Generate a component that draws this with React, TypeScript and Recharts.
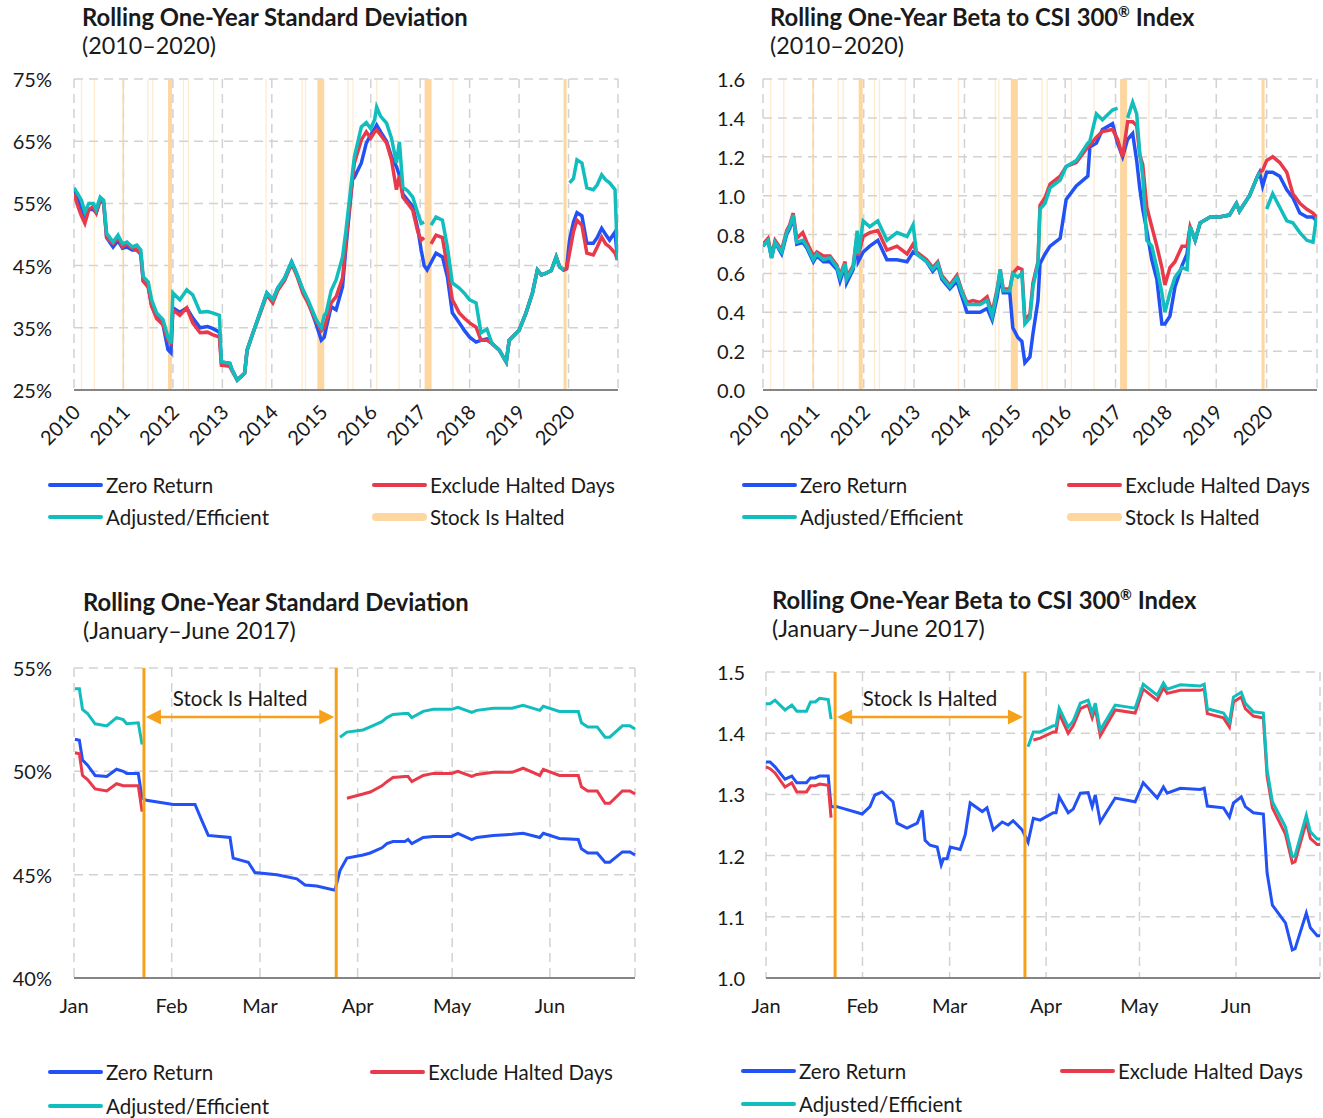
import React from "react";
import {
  LineChart,
  Line,
  XAxis,
  YAxis,
  CartesianGrid,
  ReferenceArea,
  ReferenceLine,
} from "recharts";

const FONT = "Lato, 'Open Sans', sans-serif";
const BLUE = "#2251f5";
const RED = "#e83a4a";
const TEAL = "#12bdbd";
const HALT = "#fdd6a0";
const ORANGE = "#f7a11a";
const GRID = "#d2d2d2";
const AXIS = "#858585";
const TEXT = "#1a1a1a";

// ---------- top charts: 2010-2020 ----------
const YEARS = [2010, 2011, 2012, 2013, 2014, 2015, 2016, 2017, 2018, 2019, 2020];

// halted periods (decimal years)
const HALT_BANDS: [number, number][] = [
  [2010.98, 2011.01],
  [2011.9, 2011.98],
  [2014.92, 2015.06],
  [2017.09, 2017.23],
  [2019.9, 2019.96],
];
const HALT_DAYS = [
  2010.14, 2010.4, 2011.48, 2011.58, 2012.2, 2012.3, 2012.81, 2013.87, 2014.6,
  2014.67, 2015.53, 2015.63, 2016.11, 2016.56, 2017.65,
];

// rolling std dev (%)
const sdT = [
  2010.0, 2010.08, 2010.15, 2010.22, 2010.3, 2010.39, 2010.45, 2010.53, 2010.6, 2010.66,
  2010.79, 2010.89, 2010.98, 2011.07, 2011.18, 2011.27, 2011.35, 2011.4, 2011.5, 2011.57,
  2011.67, 2011.8, 2011.9, 2011.96, 2012.0, 2012.14, 2012.28, 2012.4, 2012.55, 2012.7,
  2012.8, 2012.94, 2012.98, 2013.15, 2013.2, 2013.3, 2013.45, 2013.5, 2013.62, 2013.76,
  2013.9, 2014.02, 2014.12, 2014.26, 2014.4, 2014.5, 2014.63, 2014.73, 2014.9, 2015.0,
  2015.06, 2015.1, 2015.2, 2015.3, 2015.43, 2015.5, 2015.63, 2015.67, 2015.81, 2015.91,
  2016.0, 2016.08, 2016.12, 2016.2, 2016.32, 2016.42, 2016.52, 2016.58, 2016.65, 2016.75,
  2016.85, 2016.95, 2017.02, 2017.08, 2017.14, 2017.22, 2017.32, 2017.45, 2017.55, 2017.65,
  2017.79, 2017.9, 2018.0, 2018.13, 2018.23, 2018.35, 2018.45, 2018.6, 2018.74, 2018.8,
  2018.9, 2019.0, 2019.14, 2019.27, 2019.37, 2019.45, 2019.55, 2019.65, 2019.75, 2019.82,
  2019.9, 2019.96, 2020.02, 2020.1, 2020.17, 2020.27, 2020.37, 2020.5, 2020.58, 2020.67,
  2020.75, 2020.83, 2020.94, 2020.99,
];
const sdZero = [
  57.0, 55.5, 54.0, 53.0, 54.0, 54.0, 53.5, 55.5, 55.0, 49.5,
  48.0, 49.0, 47.8, 48.0, 47.5, 47.5, 46.8, 42.5, 41.8, 38.5,
  36.8, 35.5, 31.5, 31.0, 38.2, 37.5, 38.2, 36.6, 35.0, 35.2,
  34.9, 34.3, 29.5, 29.3, 28.2, 26.6, 27.7, 31.4, 34.2, 37.4,
  40.6, 39.5, 41.4, 43.0, 45.6, 43.8, 41.0, 39.3, 35.5, 33.0,
  33.5, 35.0, 38.4, 37.9, 41.6, 48.0, 58.8, 59.2, 61.5, 64.7,
  66.0, 67.0, 67.6, 66.5, 65.0, 62.5, 60.9, 59.5, 56.5, 55.5,
  54.5, 51.0, 47.5, 45.0, 44.3, 45.5, 47.0, 46.4, 43.2, 37.4,
  35.8, 34.5, 33.5, 32.7, 33.0, 33.2, 32.5, 31.4, 29.5, 33.0,
  33.8, 34.6, 37.4, 40.6, 44.3, 43.5, 43.8, 44.2, 46.4, 44.8,
  44.3, 44.5, 49.1, 52.0, 53.5, 53.0, 48.6, 48.6, 49.5, 51.0,
  50.0, 49.1, 50.4, 45.9,
];
const sdExcl = [
  56.5, 54.5, 53.0, 51.8, 54.0, 54.5, 53.5, 55.5, 55.0, 49.5,
  48.5, 49.5, 48.0, 48.5, 47.8, 47.5, 47.0, 42.5, 41.5, 38.5,
  36.5, 35.5, 33.0, 32.5, 37.9, 37.0, 38.2, 35.8, 34.2, 34.3,
  33.9, 33.5, 29.0, 28.8, 28.0, 26.6, 27.7, 31.4, 34.2, 37.2,
  40.3, 39.0, 41.0, 42.6, 45.3, 43.5, 40.5, 39.0, 36.0, 34.5,
  35.0, 36.0, 39.0, 40.0, 43.0, 49.0, 59.0, 61.5, 65.2, 66.5,
  65.5, 66.5, 66.8, 66.0, 64.7, 62.0, 57.2, 59.5, 56.0, 55.0,
  53.9, 50.5, 49.1, 49.5, null, 48.5, 49.9, 49.5, 44.8, 39.5,
  37.4, 36.5, 35.8, 35.1, 33.0, 33.0, 32.5, 31.4, 29.5, 33.0,
  33.8, 34.6, 37.4, 40.6, 44.3, 43.5, 43.8, 44.2, 46.4, 44.8,
  44.3, 44.5, 47.0, 50.5, 52.3, 51.5, 47.0, 46.7, 48.0, 49.6,
  48.5, 48.0, 47.0, 45.9,
];
const sdAdj = [
  57.5, 56.5, 55.5, 53.6, 55.0, 55.0, 54.0, 56.0, 55.5, 50.2,
  48.8, 49.9, 48.5, 48.8, 48.0, 48.3, 47.5, 43.2, 42.4, 39.5,
  37.4, 36.3, 33.5, 32.5, 40.6, 39.5, 41.1, 40.3, 37.5, 37.6,
  37.4, 37.0, 29.5, 29.3, 28.2, 26.6, 27.7, 31.4, 34.2, 37.4,
  40.6, 39.5, 41.4, 43.0, 45.6, 43.8, 41.1, 39.5, 36.3, 35.0,
  37.0, 37.4, 41.0, 42.7, 46.4, 50.7, 59.9, 62.5, 67.3, 68.0,
  67.0, 68.5, 70.5, 69.0, 67.9, 65.5, 61.5, 64.9, 57.6, 57.0,
  56.0, 53.5, 51.8, 52.0, null, 51.5, 52.8, 52.3, 48.0, 42.2,
  41.4, 40.5, 39.5, 39.0, 34.2, 34.8, 32.5, 31.4, 29.5, 33.0,
  33.8, 34.6, 37.4, 40.6, 44.3, 43.5, 43.8, 44.2, 46.4, 44.8,
  44.3, null, 58.3, 59.0, 62.0, 61.5, 57.5, 57.2, 58.0, 59.6,
  58.8, 58.3, 57.2, 45.9,
];
const SD_TICKS = [25, 35, 45, 55, 65, 75];

// rolling beta to CSI 300
const btT = [
  2010.0, 2010.1, 2010.17, 2010.24, 2010.37, 2010.47, 2010.53, 2010.6, 2010.67, 2010.79,
  2010.87, 2011.0, 2011.07, 2011.2, 2011.33, 2011.47, 2011.53, 2011.63, 2011.66, 2011.79,
  2011.87, 2011.89, 2011.99, 2012.12, 2012.28, 2012.46, 2012.66, 2012.86, 2012.98, 2013.05,
  2013.25, 2013.37, 2013.47, 2013.55, 2013.71, 2013.85, 2013.95, 2014.05, 2014.17, 2014.31,
  2014.45, 2014.55, 2014.65, 2014.71, 2014.77, 2014.9, 2014.96, 2015.06, 2015.14, 2015.2,
  2015.3, 2015.36, 2015.46, 2015.5, 2015.6, 2015.7, 2015.9, 2016.02, 2016.22, 2016.45,
  2016.49, 2016.62, 2016.74, 2016.94, 2017.04, 2017.14, 2017.24, 2017.34, 2017.42, 2017.48,
  2017.54, 2017.62, 2017.72, 2017.82, 2017.92, 2017.98, 2018.08, 2018.18, 2018.32, 2018.42,
  2018.48, 2018.58, 2018.68, 2018.88, 2019.06, 2019.26, 2019.4, 2019.46, 2019.66, 2019.82,
  2019.86, 2019.92, 2020.0, 2020.12, 2020.26, 2020.4, 2020.52, 2020.66, 2020.8, 2020.92,
  2020.99,
];
const btZero = [
  0.74, 0.77, 0.68, 0.76, 0.7, 0.8, 0.83, 0.89, 0.75, 0.76,
  0.73, 0.66, 0.69, 0.66, 0.66, 0.62, 0.56, 0.64, 0.55, 0.62,
  0.78, 0.66, 0.71, 0.74, 0.77, 0.67, 0.67, 0.66, 0.71, 0.7,
  0.66, 0.61, 0.64, 0.57, 0.52, 0.56, 0.48, 0.4, 0.4, 0.4,
  0.42, 0.36, 0.48, 0.58, 0.5, 0.5, 0.32, 0.27, 0.25, 0.14,
  0.17, 0.29, 0.46, 0.65, 0.7, 0.74, 0.78, 0.98, 1.05, 1.1,
  1.25, 1.27, 1.34, 1.37, 1.27, 1.2, 1.29, 1.32, 1.18, 1.04,
  0.93, 0.82, 0.67, 0.57, 0.34, 0.34, 0.38, 0.53, 0.64, 0.7,
  0.84, 0.77, 0.86, 0.89, 0.89, 0.9, 0.96, 0.92, 1.0, 1.1,
  1.12, 1.05, 1.12, 1.12, 1.1, 1.03, 0.99, 0.91, 0.89, 0.89,
  0.87,
];
const btExcl = [
  0.75, 0.78, 0.69, 0.77, 0.72, 0.82, 0.85, 0.91, 0.78, 0.81,
  0.76, 0.69, 0.71, 0.69, 0.69, 0.64, 0.59, 0.66, 0.58, 0.64,
  0.8, 0.69, 0.79, 0.81, 0.82, 0.72, 0.74, 0.7, 0.75, 0.71,
  0.67, 0.63, 0.66, 0.59, 0.54, 0.59, 0.51, 0.45, 0.46, 0.45,
  0.48, 0.4, 0.52, 0.62, 0.52, 0.52, 0.6, 0.63, 0.62, 0.36,
  0.39, 0.55, 0.66, 0.95, 0.99, 1.06, 1.1, 1.15, 1.17, 1.25,
  1.26, 1.3, 1.33, 1.34, 1.29, 1.2, 1.38, 1.38, 1.36, 1.21,
  1.16, 0.94, 0.84, 0.74, 0.63, 0.54, 0.63, 0.66, 0.74, 0.74,
  0.84, 0.77, 0.86, 0.89, 0.89, 0.9, 0.96, 0.92, 1.0, 1.1,
  1.12, 1.13, 1.18, 1.2, 1.17, 1.12, 1.01, 0.96, 0.93, 0.91,
  0.89,
];
const btAdj = [
  0.74, 0.77, 0.68, 0.76, 0.71, 0.81, 0.84, 0.9, 0.76, 0.77,
  0.74, 0.67, 0.7, 0.67, 0.68, 0.63, 0.58, 0.65, 0.57, 0.63,
  0.82, 0.7, 0.87, 0.84, 0.87, 0.77, 0.81, 0.79, 0.85, 0.7,
  0.66, 0.62, 0.65, 0.58, 0.53, 0.58, 0.5, 0.44, 0.44, 0.44,
  0.46, 0.38, 0.51, 0.62, 0.51, 0.51, 0.6, 0.58, 0.6, 0.34,
  0.37, 0.53, 0.65, 0.93, 0.96, 1.04, 1.08, 1.15, 1.18, 1.27,
  1.28, 1.42, 1.39, 1.44, 1.45, null, 1.4, 1.48, 1.42, 1.22,
  1.1, 0.77, 0.74, 0.63, 0.5, 0.4, 0.5, 0.58, 0.63, 0.62,
  0.84, 0.77, 0.86, 0.89, 0.89, 0.9, 0.96, 0.92, 1.0, 1.1,
  1.12, null, 0.93, 1.01, 0.94, 0.87, 0.86, 0.81, 0.77, 0.76,
  0.89,
];
const BT_TICKS = [0, 0.2, 0.4, 0.6, 0.8, 1.0, 1.2, 1.4, 1.6];

// ---------- bottom charts: Jan-Jun 2017 (days since Jan 1) ----------
const MONTH_STARTS = [0, 31, 59, 90, 120, 151];
const MONTH_LABELS = ["Jan", "Feb", "Mar", "Apr", "May", "Jun"];
const HALT_START = 22.2;
const HALT_END = 83.2;

const h1SdDays = [
  0.3, 1.7, 2.7, 4.3, 6.7, 10.4, 13.5, 15.6, 16.7, 20.4,
  21.6, 23.0, 31.5, 38.4, 40.6, 42.6, 49.5, 50.5, 55.3, 57.4,
  64.4, 70.7, 73.3, 77.0, 82.8, 84.4, 86.6, 91.7, 94.0, 97.7,
  99.3, 101.2, 105.0, 106.0, 107.2, 110.8, 114.0, 119.8, 121.8, 126.2,
  127.8, 133.0, 139.0, 142.5, 147.8, 148.9, 154.0, 160.0, 161.0, 163.0,
  166.0, 168.5, 170.0, 174.0, 176.4, 178.0,
];
const h1SdZero = [
  51.55, 51.5, 50.55, 50.3, 49.8, 49.75, 50.1, 50.0, 49.9, 49.9,
  48.7, 48.6, 48.4, 48.4, 47.6, 46.9, 46.8, 45.8, 45.6, 45.1,
  45.0, 44.8, 44.5, 44.45, 44.25, 45.2, 45.8, 45.95, 46.05, 46.3,
  46.5, 46.6, 46.6, 46.7, 46.5, 46.8, 46.85, 46.85, 47.0, 46.7,
  46.8, 46.9, 46.95, 47.0, 46.8, 47.0, 46.75, 46.7, 46.25, 46.05,
  46.05, 45.6, 45.6, 46.1, 46.1, 45.95,
];
const h1SdExcl = [
  50.9, 50.85, 49.8, 49.6, 49.15, 49.05, 49.4, 49.3, 49.3, 49.3,
  48.05, null, null, null, null, null, null, null, null, null,
  null, null, null, null, null, null, 48.7, 48.9, 49.0, 49.3,
  49.5, 49.7, 49.75, 49.75, 49.5, 49.8, 49.9, 49.9, 50.0, 49.75,
  49.85, 49.95, 49.95, 50.15, 49.8, 50.1, 49.8, 49.8, 49.25, 49.05,
  49.05, 48.45, 48.45, 49.05, 49.05, 48.9,
];
const h1SdAdj = [
  54.0, 54.0, 53.0, 52.8, 52.3, 52.2, 52.6, 52.5, 52.3, 52.35,
  51.3, null, null, null, null, null, null, null, null, null,
  null, null, null, null, null, 51.65, 51.9, 52.0, 52.15, 52.4,
  52.6, 52.75, 52.8, 52.8, 52.6, 52.9, 53.0, 53.0, 53.1, 52.85,
  52.95, 53.05, 53.05, 53.2, 52.95, 53.15, 52.9, 52.9, 52.35, 52.15,
  52.15, 51.65, 51.65, 52.2, 52.2, 52.05,
];
const H1_SD_TICKS = [40, 45, 50, 55];

const h1BtDays = [
  0, 1.3, 2.9, 6.1, 8.3, 9.9, 13.0, 14.3, 15.8, 17.2,
  20.0, 20.9, 22.8, 30.9, 33.4, 35.0, 37.3, 40.8, 42.1, 45.3,
  48.6, 50.2, 51.1, 52.7, 55.0, 56.3, 57.0, 58.2, 59.2, 62.4,
  64.0, 65.6, 69.5, 71.0, 73.0, 75.9, 77.8, 79.4, 82.3, 84.2,
  85.9, 88.1, 92.3, 93.2, 94.2, 97.1, 98.7, 101.0, 103.5, 104.8,
  105.8, 107.4, 112.2, 118.6, 121.2, 125.7, 127.7, 128.9, 133.1, 139.5,
  140.8, 141.8, 147.0, 148.9, 150.2, 152.7, 154.0, 156.6, 159.8, 161.0,
  162.7, 166.9, 169.1, 170.0, 173.6, 174.9, 177.1, 178.0,
];
const h1BtZero = [
  1.353, 1.353, 1.345, 1.325, 1.33, 1.319, 1.319, 1.327, 1.327, 1.33,
  1.33, 1.28, 1.28, 1.268, 1.28, 1.299, 1.304, 1.288, 1.253, 1.245,
  1.253, 1.274, 1.225, 1.217, 1.214, 1.185, 1.195, 1.195, 1.214, 1.21,
  1.234, 1.286, 1.272, 1.278, 1.242, 1.255, 1.25, 1.257, 1.242, 1.222,
  1.261, 1.258, 1.27, 1.27, 1.296, 1.27, 1.276, 1.302, 1.303, 1.28,
  1.299, 1.255, 1.294, 1.288, 1.319, 1.294, 1.312, 1.302, 1.31, 1.308,
  1.31, 1.281, 1.278, 1.263, 1.286, 1.296, 1.28, 1.27, 1.268, 1.172,
  1.119, 1.09, 1.046, 1.048, 1.106, 1.082, 1.069, 1.069,
];
const h1BtExcl = [
  1.345, 1.342, 1.335, 1.312, 1.319, 1.304, 1.304, 1.314, 1.314, 1.317,
  1.315, 1.262, null, null, null, null, null, null, null, null,
  null, null, null, null, null, null, null, null, null, null,
  null, null, null, null, null, null, null, null, null, null,
  1.389, 1.392, 1.402, 1.402, 1.432, 1.4, 1.412, 1.44, 1.446, 1.425,
  1.441, 1.396, 1.438, 1.433, 1.472, 1.454, 1.474, 1.465, 1.47, 1.47,
  1.472, 1.432, 1.425, 1.41, 1.451, 1.459, 1.44, 1.428, 1.425, 1.33,
  1.278, 1.235, 1.188, 1.19, 1.255, 1.228, 1.218, 1.218,
];
const h1BtAdj = [
  1.448, 1.448, 1.454, 1.438, 1.446, 1.436, 1.436, 1.451, 1.451, 1.457,
  1.455, 1.423, null, null, null, null, null, null, null, null,
  null, null, null, null, null, null, null, null, null, null,
  null, null, null, null, null, null, null, null, null, 1.378,
  1.402, 1.402, 1.412, 1.412, 1.441, 1.41, 1.42, 1.449, 1.454, 1.433,
  1.449, 1.405, 1.446, 1.441, 1.48, 1.462, 1.482, 1.472, 1.479, 1.477,
  1.48, 1.44, 1.433, 1.418, 1.459, 1.467, 1.449, 1.435, 1.433, 1.34,
  1.288, 1.247, 1.198, 1.2, 1.266, 1.239, 1.227, 1.227,
];
const H1_BT_TICKS = [1.0, 1.1, 1.2, 1.3, 1.4, 1.5];

type Row = { x: number; zero: number | null; excl: number | null; adj: number | null };
const toRows = (
  xs: number[],
  zero: (number | null)[],
  excl: (number | null)[],
  adj: (number | null)[]
): Row[] => xs.map((x, i) => ({ x, zero: zero[i], excl: excl[i], adj: adj[i] }));

const sdRows = toRows(sdT, sdZero, sdExcl, sdAdj);
const btRows = toRows(btT, btZero, btExcl, btAdj);
const h1SdRows = toRows(h1SdDays, h1SdZero, h1SdExcl, h1SdAdj);
const h1BtRows = toRows(h1BtDays, h1BtZero, h1BtExcl, h1BtAdj);

// ---------- small render helpers ----------
const YTick = ({ x, y, payload, fmt }: any) => (
  <text
    x={x}
    y={y}
    textAnchor="end"
    dominantBaseline="central"
    fontSize={20}
    fontFamily={FONT}
    fill={TEXT}
  >
    {fmt(payload.value)}
  </text>
);

const YearTick = ({ x, y, payload }: any) => (
  <text
    x={x + 2}
    y={y}
    transform={`rotate(-45 ${x + 2} ${y})`}
    textAnchor="end"
    dominantBaseline="central"
    fontSize={20}
    fontFamily={FONT}
    fill={TEXT}
  >
    {payload.value}
  </text>
);

const MonthTick = ({ x, y, payload }: any) => (
  <text
    x={x}
    y={y}
    textAnchor="middle"
    dominantBaseline="central"
    fontSize={20}
    fontFamily={FONT}
    fill={TEXT}
  >
    {MONTH_LABELS[MONTH_STARTS.indexOf(payload.value)]}
  </text>
);

const HaltArrow = (props: any) => {
  const { x1, y1, x2 } = props;
  const a = x1 + 2;
  const b = x2 - 2;
  return (
    <g>
      <line x1={a + 10} y1={y1} x2={b - 10} y2={y1} stroke={ORANGE} strokeWidth={2.5} />
      <polygon points={`${a},${y1} ${a + 15},${y1 - 7.5} ${a + 15},${y1 + 7.5}`} fill={ORANGE} />
      <polygon points={`${b},${y1} ${b - 15},${y1 - 7.5} ${b - 15},${y1 + 7.5}`} fill={ORANGE} />
      <text
        x={(x1 + x2) / 2}
        y={y1 - 19}
        textAnchor="middle"
        dominantBaseline="central"
        fontSize={20.5}
        fontFamily={FONT}
        fill={TEXT}
      >
        Stock Is Halted
      </text>
    </g>
  );
};

const pct = (v: number) => `${v}%`;
const dec1 = (v: number) => v.toFixed(1);

const Title = ({ left, top, main, sub }: any) => (
  <div
    style={{
      position: "absolute",
      left,
      top,
      fontFamily: FONT,
      lineHeight: "28px",
      color: TEXT,
      whiteSpace: "nowrap",
    }}
  >
    <div style={{ fontWeight: 700, fontSize: 23.8 }}>{main}</div>
    <div style={{ fontSize: 23.3 }}>{sub}</div>
  </div>
);

const LegendItem = ({ left, cy, color, label, thick }: any) => (
  <div
    style={{
      position: "absolute",
      left,
      top: cy - 14,
      height: 28,
      display: "flex",
      alignItems: "center",
      fontFamily: FONT,
      fontSize: 20.5,
      color: TEXT,
      whiteSpace: "nowrap",
    }}
  >
    <div
      style={{
        width: 55,
        height: thick ? 8 : 4,
        borderRadius: 4,
        background: color,
        marginRight: 3,
      }}
    />
    {label}
  </div>
);

const Legend4 = ({ l1, l2, y1, y2, halted }: any) => (
  <>
    <LegendItem left={l1} cy={y1} color={BLUE} label="Zero Return" />
    <LegendItem left={l2} cy={y1} color={RED} label="Exclude Halted Days" />
    <LegendItem left={l1} cy={y2} color={TEAL} label="Adjusted/Efficient" />
    {halted && <LegendItem left={l2} cy={y2} color={HALT} label="Stock Is Halted" thick />}
  </>
);

const gridProps = { stroke: GRID, strokeDasharray: "9 6", strokeWidth: 1.5 };

const series = (w: number) => [
  <Line key="zero" dataKey="zero" stroke={BLUE} strokeWidth={w} dot={false} isAnimationActive={false} type="linear" />,
  <Line key="excl" dataKey="excl" stroke={RED} strokeWidth={w} dot={false} isAnimationActive={false} type="linear" />,
  <Line key="adj" dataKey="adj" stroke={TEAL} strokeWidth={w} dot={false} isAnimationActive={false} type="linear" />,
];

const haltAreas = () => [
  ...HALT_DAYS.map((d) => (
    <ReferenceArea key={`d${d}`} x1={d} x2={d + 0.025} fill={HALT} fillOpacity={0.5} stroke="none" />
  )),
  ...HALT_BANDS.map(([a, b]) => (
    <ReferenceArea key={`b${a}`} x1={a} x2={b} fill={HALT} fillOpacity={1} stroke="none" />
  )),
];

export default function App() {
  return (
    <div
      style={{
        position: "absolute",
        left: 0,
        top: 0,
        width: 1323,
        height: 1118,
        background: "#fff",
        overflow: "hidden",
      }}
    >
      {/* top-left: std dev 2010-2020 */}
      <div style={{ position: "absolute", left: 0, top: 0 }}>
        <LineChart width={640} height={470} data={sdRows} margin={{ top: 79, right: 22, left: 0, bottom: 0 }}>
          <CartesianGrid {...gridProps} />
          {haltAreas()}
          <XAxis
            dataKey="x"
            type="number"
            domain={[2010, 2021]}
            ticks={YEARS}
            height={80}
            tickSize={0}
            tickMargin={18}
            tickLine={false}
            axisLine={{ stroke: AXIS, strokeWidth: 2 }}
            tick={<YearTick />}
            allowDataOverflow
          />
          <YAxis
            type="number"
            domain={[25, 75]}
            ticks={SD_TICKS}
            width={74}
            tickSize={0}
            tickMargin={22}
            axisLine={false}
            tickLine={false}
            tick={<YTick fmt={pct} />}
            allowDataOverflow
          />
          {series(3.5)}
        </LineChart>
      </div>
      <Title left={82} top={3} main="Rolling One-Year Standard Deviation" sub="(2010–2020)" />
      <Legend4 l1={48} l2={372} y1={485} y2={517} halted />

      {/* top-right: beta 2010-2020 */}
      <div style={{ position: "absolute", left: 680, top: 0 }}>
        <LineChart width={643} height={470} data={btRows} margin={{ top: 79, right: 6, left: 0, bottom: 0 }}>
          <CartesianGrid {...gridProps} />
          {haltAreas()}
          <XAxis
            dataKey="x"
            type="number"
            domain={[2010, 2021]}
            ticks={YEARS}
            height={80}
            tickSize={0}
            tickMargin={18}
            tickLine={false}
            axisLine={{ stroke: AXIS, strokeWidth: 2 }}
            tick={<YearTick />}
            allowDataOverflow
          />
          <YAxis
            type="number"
            domain={[0, 1.6]}
            ticks={BT_TICKS}
            width={83}
            tickSize={0}
            tickMargin={18}
            axisLine={false}
            tickLine={false}
            tick={<YTick fmt={dec1} />}
            allowDataOverflow
          />
          {series(3.5)}
        </LineChart>
      </div>
      <Title
        left={770}
        top={3}
        main={
          <>
            Rolling One-Year Beta to CSI 300<sup style={{ fontSize: "0.6em", lineHeight: 0 }}>®</sup> Index
          </>
        }
        sub="(2010–2020)"
      />
      <Legend4 l1={742} l2={1067} y1={485} y2={517} halted />

      {/* bottom-left: std dev Jan-Jun 2017 */}
      <div style={{ position: "absolute", left: 0, top: 590 }}>
        <LineChart width={660} height={438} data={h1SdRows} margin={{ top: 78, right: 25, left: 0, bottom: 0 }}>
          <CartesianGrid {...gridProps} />
          <XAxis
            dataKey="x"
            type="number"
            domain={[0, 178]}
            ticks={MONTH_STARTS}
            height={50}
            tickSize={0}
            tickMargin={27}
            tickLine={false}
            axisLine={{ stroke: AXIS, strokeWidth: 2 }}
            tick={<MonthTick />}
          />
          <YAxis
            type="number"
            domain={[40, 55]}
            ticks={H1_SD_TICKS}
            width={74}
            tickSize={0}
            tickMargin={22}
            axisLine={false}
            tickLine={false}
            tick={<YTick fmt={pct} />}
          />
          {series(3)}
          <ReferenceLine x={HALT_START} stroke={ORANGE} strokeWidth={3} />
          <ReferenceLine x={HALT_END} stroke={ORANGE} strokeWidth={3} />
          <ReferenceLine
            segment={[
              { x: HALT_START, y: 52.63 },
              { x: HALT_END, y: 52.63 },
            ]}
            shape={<HaltArrow />}
          />
        </LineChart>
      </div>
      <Title left={83} top={588} main="Rolling One-Year Standard Deviation" sub="(January–June 2017)" />
      <Legend4 l1={48} l2={370} y1={1072} y2={1106} />

      {/* bottom-right: beta Jan-Jun 2017 */}
      <div style={{ position: "absolute", left: 680, top: 590 }}>
        <LineChart width={643} height={438} data={h1BtRows} margin={{ top: 82, right: 3, left: 0, bottom: 0 }}>
          <CartesianGrid {...gridProps} />
          <XAxis
            dataKey="x"
            type="number"
            domain={[0, 178]}
            ticks={MONTH_STARTS}
            height={50}
            tickSize={0}
            tickMargin={27}
            tickLine={false}
            axisLine={{ stroke: AXIS, strokeWidth: 2 }}
            tick={<MonthTick />}
          />
          <YAxis
            type="number"
            domain={[1.0, 1.5]}
            ticks={H1_BT_TICKS}
            width={86}
            tickSize={0}
            tickMargin={21}
            axisLine={false}
            tickLine={false}
            tick={<YTick fmt={dec1} />}
          />
          {series(3)}
          <ReferenceLine x={HALT_START} stroke={ORANGE} strokeWidth={3} />
          <ReferenceLine x={HALT_END} stroke={ORANGE} strokeWidth={3} />
          <ReferenceLine
            segment={[
              { x: HALT_START, y: 1.4265 },
              { x: HALT_END, y: 1.4265 },
            ]}
            shape={<HaltArrow />}
          />
        </LineChart>
      </div>
      <Title
        left={772}
        top={586}
        main={
          <>
            Rolling One-Year Beta to CSI 300<sup style={{ fontSize: "0.6em", lineHeight: 0 }}>®</sup> Index
          </>
        }
        sub="(January–June 2017)"
      />
      <Legend4 l1={741} l2={1060} y1={1071} y2={1104} />
    </div>
  );
}
